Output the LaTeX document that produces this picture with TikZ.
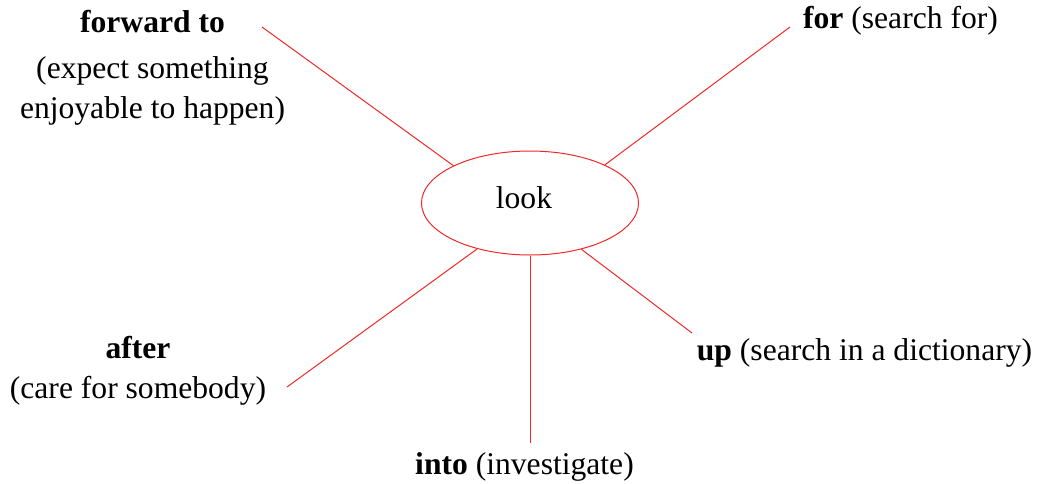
\documentclass[tikz,border=0pt]{standalone}
\usepackage{fontspec}
\setmainfont{Liberation Serif}
\usetikzlibrary{shapes.geometric}
\definecolor{R1}{RGB}{240,40,40}

\begin{document}
\begin{tikzpicture}[x=0.75pt, y=-0.75pt,
    every node/.style={font=\fontsize{23.7}{30}\selectfont, inner sep=0pt},
    leg/.style={R1, line width=0.75pt}]
      \useasboundingbox (0,0) rectangle (1043,483);
      \node[ellipse, draw=R1, line width=0.75pt, minimum width=162.75pt, minimum height=78pt] (look) at (530,203) {};
      \node[anchor=base] (lookt) at (524,208) {look};
      \node[anchor=base, align=center] (fwd) at (152.5,118) {\textbf{forward to}\\[4.5pt](expect something\\enjoyable to happen)};
      \node[anchor=base] (for) at (900.5,28) {\textbf{for} (search for)};
      \node[anchor=base, align=center] (aft) at (138,398) {\textbf{after}\\(care for somebody)};
      \node[anchor=base] (into) at (524.5,474) {\textbf{into} (investigate)};
      \node[anchor=base] (up) at (864.5,360) {\textbf{up} (search in a dictionary)};
      \coordinate (cfwd) at (262,27);
      \coordinate (cfor) at (790,27);
      \coordinate (caft) at (287,387);
      \coordinate (cinto) at (530,443);
      \coordinate (cup) at (692,333);
      \draw[leg] (look.154) -- (cfwd);
      \draw[leg] (look.27) -- (cfor);
      \draw[leg] (look.221) -- (caft);
      \draw[leg] (look.270) -- (cinto);
      \draw[leg] (look.318) -- (cup);
\end{tikzpicture}
\end{document}
